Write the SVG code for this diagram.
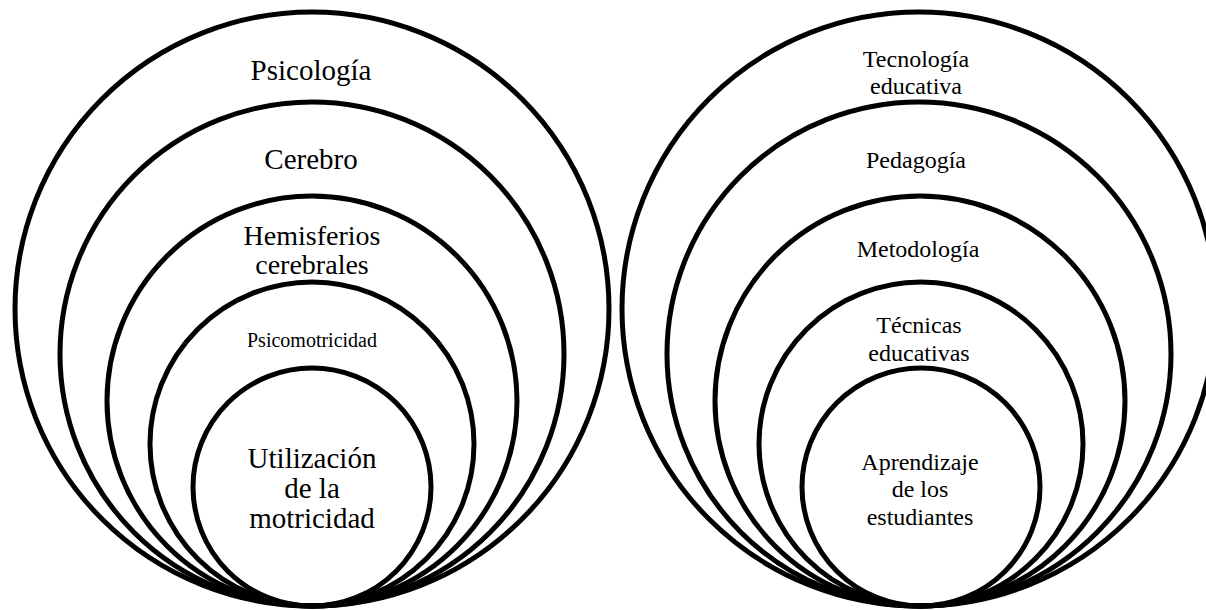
<svg xmlns="http://www.w3.org/2000/svg" width="1206" height="610" viewBox="0 0 1206 610">
<style>
.ring{fill:none;stroke:#000;stroke-width:5}
text{font-family:"Liberation Serif","Times New Roman",serif;fill:#000;text-anchor:middle}
.l{font-size:29px}
.m{font-size:28px}
.r{font-size:24px}
.s{font-size:20px}
</style>
<rect width="1206" height="610" fill="#fff"/>
<g id="left">
<g id="psicologia"><circle class="ring" cx="312" cy="309" r="297"/><text class="l" x="311" y="80">Psicología</text></g>
<g id="cerebro"><circle class="ring" cx="312" cy="354" r="252"/><text class="l" x="311" y="169">Cerebro</text></g>
<g id="hemisferios"><circle class="ring" cx="312" cy="401" r="205"/><text class="m" x="312" y="245">Hemisferios</text><text class="m" x="312" y="274">cerebrales</text></g>
<g id="psicomotricidad"><circle class="ring" cx="312" cy="444" r="162"/><text class="s" x="312" y="347">Psicomotricidad</text></g>
<g id="utilizacion"><circle class="ring" cx="312" cy="487" r="119"/><text class="l" x="312" y="468">Utilización</text><text class="l" x="312" y="498">de la</text><text class="l" x="312" y="528">motricidad</text></g>
</g>
<g id="right">
<g id="tecnologia"><circle class="ring" cx="919" cy="309" r="297"/><text class="r" x="916" y="67">Tecnología</text><text class="r" x="916" y="94">educativa</text></g>
<g id="pedagogia"><circle class="ring" cx="919" cy="354" r="252"/><text class="r" x="916" y="168">Pedagogía</text></g>
<g id="metodologia"><circle class="ring" cx="920" cy="401" r="205"/><text class="r" x="918" y="257">Metodología</text></g>
<g id="tecnicas"><circle class="ring" cx="921" cy="444" r="162"/><text class="r" x="919" y="333">Técnicas</text><text class="r" x="919" y="361">educativas</text></g>
<g id="aprendizaje"><circle class="ring" cx="921" cy="487" r="119"/><text class="r" x="920" y="470">Aprendizaje</text><text class="r" x="920" y="497">de los</text><text class="r" x="920" y="525">estudiantes</text></g>
</g>
<g id="connectors"></g>
</svg>
